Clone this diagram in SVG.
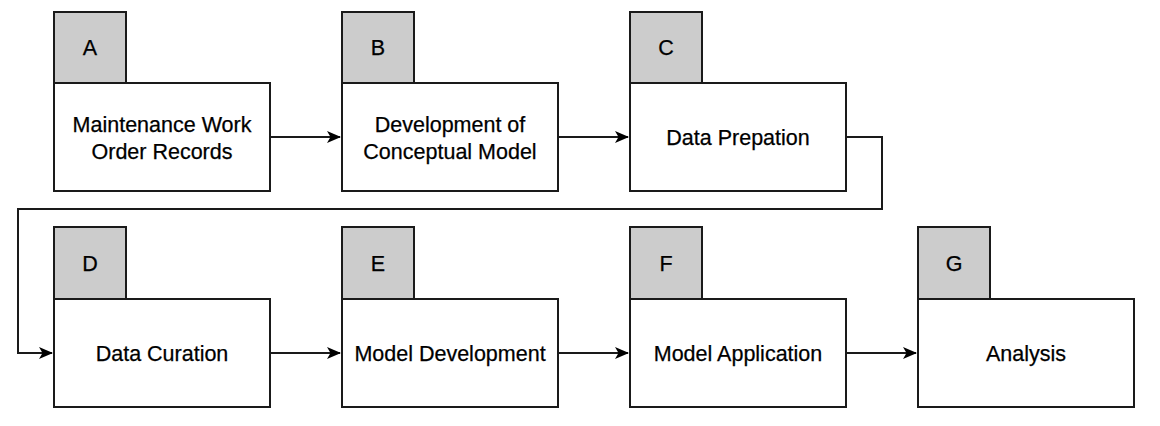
<svg xmlns="http://www.w3.org/2000/svg" width="1160" height="426" viewBox="0 0 1160 426">
<style>
.tab{fill:#cccccc;stroke:#1a1a1a;stroke-width:2}
.box{fill:#fff;stroke:#1a1a1a;stroke-width:2}
.t{font-family:"Liberation Sans",Arial,sans-serif;font-size:21.5px;fill:#000;stroke:#000;stroke-width:0.25;text-anchor:middle}
.c{fill:none;stroke:#1a1a1a;stroke-width:2}
</style>
<defs>
<marker id="ah" markerWidth="14" markerHeight="12" refX="13" refY="6" orient="auto" markerUnits="userSpaceOnUse">
<path d="M0,0 L14,6 L0,12 L3.5,6 Z" fill="#000"/>
</marker>
</defs>
<rect width="1160" height="426" fill="#fff"/>
<g id="connectors">
<path class="c" d="M270,137 H340" marker-end="url(#ah)"/>
<path class="c" d="M558,137 H628" marker-end="url(#ah)"/>
<path class="c" d="M846,137 H882 V209 H18 V353 H52" marker-end="url(#ah)"/>
<path class="c" d="M270,353 H340" marker-end="url(#ah)"/>
<path class="c" d="M558,353 H628" marker-end="url(#ah)"/>
<path class="c" d="M846,353 H916" marker-end="url(#ah)"/>
</g>
<g id="nodeA">
<rect class="tab" x="54" y="12" width="72" height="71"/>
<rect class="box" x="54" y="83" width="216" height="108"/>
<text class="t" x="90" y="55">A</text>
<text class="t" x="162" y="132">Maintenance Work</text>
<text class="t" x="162" y="159">Order Records</text>
</g>
<g id="nodeB">
<rect class="tab" x="342" y="12" width="72" height="71"/>
<rect class="box" x="342" y="83" width="216" height="108"/>
<text class="t" x="378" y="55">B</text>
<text class="t" x="450" y="132">Development of</text>
<text class="t" x="450" y="159">Conceptual Model</text>
</g>
<g id="nodeC">
<rect class="tab" x="630" y="12" width="72" height="71"/>
<rect class="box" x="630" y="83" width="216" height="108"/>
<text class="t" x="666" y="55">C</text>
<text class="t" x="738" y="145">Data Prepation</text>
</g>
<g id="nodeD">
<rect class="tab" x="54" y="227" width="72" height="72"/>
<rect class="box" x="54" y="299" width="216" height="108"/>
<text class="t" x="90" y="271">D</text>
<text class="t" x="162" y="361">Data Curation</text>
</g>
<g id="nodeE">
<rect class="tab" x="342" y="227" width="72" height="72"/>
<rect class="box" x="342" y="299" width="216" height="108"/>
<text class="t" x="378" y="271">E</text>
<text class="t" x="450" y="361">Model Development</text>
</g>
<g id="nodeF">
<rect class="tab" x="630" y="227" width="72" height="72"/>
<rect class="box" x="630" y="299" width="216" height="108"/>
<text class="t" x="666" y="271">F</text>
<text class="t" x="738" y="361">Model Application</text>
</g>
<g id="nodeG">
<rect class="tab" x="918" y="227" width="72" height="72"/>
<rect class="box" x="918" y="299" width="216" height="108"/>
<text class="t" x="954" y="271">G</text>
<text class="t" x="1026" y="361">Analysis</text>
</g>
</svg>
